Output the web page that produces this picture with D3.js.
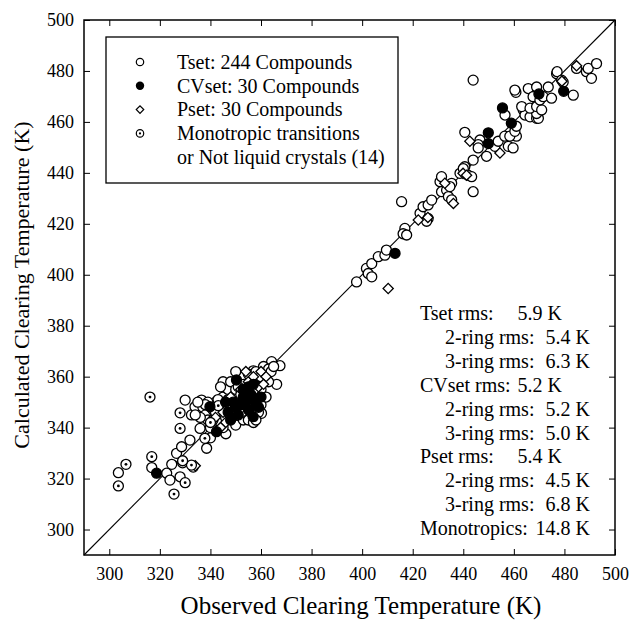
<!DOCTYPE html>
<html><head><meta charset="utf-8">
<script src="https://cdn.jsdelivr.net/npm/d3@7"></script>
<style>
body{margin:0;background:#fff;}
text{font-family:"Liberation Serif","Times New Roman",serif;fill:#000;}
</style></head>
<body><svg id="c" width="629" height="625"></svg>
<script>
// Axis settings
const xDomain = [290, 500];
const yDomain = [290, 500];
const majorTicks = [300, 320, 340, 360, 380, 400, 420, 440, 460, 480, 500];
const xTitle = "Observed Clearing Temperature (K)";
const yTitle = "Calculated Clearing Temperature (K)";

// Tset: open circles [observed, calculated]
const tset = [
[303.6,322.3],[316.8,324.3],[322.7,322.1],[324,319.4],[324.7,325.6],[326.6,329.9],[328,320.7],[328.6,332.5],[329,326.2],[330,350.8],
[331.9,335.1],[332.5,345],[333.2,324.5],[333.9,348.2],[335.9,339.7],[336.5,350.8],[338.5,331.9],[340.5,345],[345,358],[346.1,337.6],
[356.9,362.3],[360.9,362.6],[364.2,365.9],[367.5,364.3],[366.2,357],[360.2,345.6],
[337,348],[338,345],[339,343],[340,340],[341,347],[342,350],[343,345],[344,342],[345,352],[346,348],[347,355],[348,344],[348,358],
[349,352],[350,341],[350,355],[351,350],[352,346],[352,360],[353,343],[353,357],[354,349],[354,353],[355,361],[355,343],[356,346],
[356,358],[357,354],[357,348],[358,362],[358,345],[359,351],[359,359],[360,355],[360,349],[361,358],[361,364],[362,352],[362,361],
[363,363],[363,358],[364,362],[365,364],[344,356],[346,344],[349,347],[351,356],[353,351],[355,353],[347,351],[341,343],[343,351],
[345,340],[357,342],[359,346],[350,362],[352,353],[354,347],[356,352],[358,350],[360,360],[342,346],[339,350],[336,344],[334,345],
[338,349],[340,336],[335,350],
[397.8,397.2],[401.7,402.5],[402.4,400.5],[403.8,399.2],[403.8,404.4],[406.4,407.1],[409,407.7],[409.6,409.7],[415.6,428.7],[416.9,418.2],
[416.2,416.1],[417.6,415.6],[422.9,424.1],[424.1,426.7],[426.1,427.4],[427.5,429.3],[426.1,422.1],[425.5,421],[430.8,436.5],[431.4,438.5],
[431.4,432.6],[433.4,433.2],[434.1,430.7],[435.4,435.9],[435.4,429.4],[434.7,434.6],[438.7,439.8],[440.6,442.4],[441.9,439.1],[443.9,432.6],
[443.3,438.5],[443.9,445],[440,441.7],
[443.9,476.4],[440.6,455.9],[446.6,452.9],[445.9,451.1],[445.9,449.8],[449.2,446.5],[452.5,450.4],[453.8,452.4],[456.4,454.4],[457.8,450.4],
[459.7,449.8],[461,454.4],[458.4,454.4],[460.4,456.3],[461,458.3],[456.5,462.7],[463.7,464.7],[464.4,462.7],[466.4,462],[469,461.4],
[469.7,461.4],[469,463.3],[463.1,466],[466.4,465.4],[469,466],[471,464.7],[460.8,471.6],[460.4,472.5],[465.7,473.1],[467.6,469.9],
[470.3,468.6],[471.6,469.9],[469,473.7],[473.6,473.7],[474.9,469.3],[476.9,478.9],[477.1,479.7],[478.9,476.4],[479.5,475.6],[483.5,470.5],
[484.8,481],[488.7,479.7],[490.7,477.1],[489.4,481],[492.7,482.9]
];

// CVset: filled circles
const cvset = [
[318.7,322.1],[339.8,348.2],[342.4,338.4],[350.3,358.7],[356.9,344.3],[413,408.4],[449.9,455.7],[449.9,451.5],[455.5,465.5],[459,459.5],
[469.9,471],[479.7,472],[347,346],[349,350],[350,348],[352,349],[353,352],[354,350],[355,356],[356,353],
[357,351],[358,349],[346,350],[351,345],[348,343],[355,347],[353,355],[357,357],[360,352],[359,348]
];

// Pset: open diamonds
const pset = [
[410.3,394.6],[484.8,482],[442.6,452.4],[454.5,447.8],[439.9,439.8],[436.1,428],[422.2,421.5],[432.7,435.9],[441.3,439.1],[426,422.5],
[345,346],[348,352],[352,355],[355,358],[357,360],[360,362],[362,360],[350,346],[356,350],[353,346],
[358,355],[346,342],[342,344],[344,340],[347,349],[359,356],[354,362],[361,357],[334,325],[479,476]
];

// Monotropic transitions or not liquid crystals: circle with dot
const mono = [
[316.1,352],[316.8,328.6],[306.6,325.6],[303.6,317.1],[328,345.8],[328,339.7],[330,318.4],[325.6,313.9],[337.8,335.8],[343.1,348.6],
[332.5,325.3],[329,327],[340,342],[358,343]
];

const legendLabels = ["Tset: 244 Compounds","CVset: 30 Compounds","Pset: 30 Compounds","Monotropic transitions","or Not liquid crystals (14)"];
const statLabels = ["Tset rms:","2-ring rms:","3-ring rms:","CVset rms:","2-ring rms:","3-ring rms:","Pset rms:","2-ring rms:","3-ring rms:","Monotropics:"];
const statValues = ["5.9 K","5.4 K","6.3 K","5.2 K","5.2 K","5.0 K","5.4 K","4.5 K","6.8 K","14.8 K"];
const statIndent = [0,1,1,0,1,1,0,1,1,0];
const statWide = [0,1,1,0,1,1,0,1,1,1];

const svg = d3.select("#c");
const L = 84, T = 20, W = 531, H = 535;
const x = d3.scaleLinear().domain(xDomain).range([L, L + W]);
const y = d3.scaleLinear().domain(yDomain).range([T + H, T]);
const minorTicks = d3.range(290, 501, 4);

const g = svg.append("g");
function ax(axisFn, scale, tr, show) {
  const a = g.append("g").attr("transform", tr);
  a.call(axisFn(scale).tickValues(minorTicks).tickSize(-3).tickFormat(""));
  a.call(axisFn(scale).tickValues(majorTicks).tickSize(-6).tickFormat(show ? d3.format("d") : ""));
  a.selectAll(".domain").remove();
  a.selectAll("line").attr("stroke", "#000").attr("stroke-width", 1);
  a.selectAll("text").style("font-size", "18px").style("font-family", "Liberation Serif");
  return a;
}
const xa = ax(d3.axisBottom, x, `translate(0,${T + H})`, true);
xa.selectAll("text").attr("y", 12);
ax(d3.axisTop, x, `translate(0,${T})`, false);
const ya = ax(d3.axisLeft, y, `translate(${L},0)`, true);
ya.selectAll("text").attr("x", -10);
ax(d3.axisRight, y, `translate(${L + W},0)`, false);

g.append("rect").attr("x", L).attr("y", T).attr("width", W).attr("height", H)
  .attr("fill", "none").attr("stroke", "#000").attr("stroke-width", 1.5);

// diagonal y = x
g.append("line").attr("x1", x(290)).attr("y1", y(290)).attr("x2", x(500)).attr("y2", y(500))
  .attr("stroke", "#000").attr("stroke-width", 1.1);

const R = 5;
const pts = g.append("g");
pts.selectAll("circle.t").data(tset).join("circle").attr("class", "t")
  .attr("cx", d => x(d[0])).attr("cy", d => y(d[1])).attr("r", R)
  .attr("fill", "#fff").attr("stroke", "#000").attr("stroke-width", 1.3);
pts.selectAll("path.p").data(pset).join("path").attr("class", "p")
  .attr("transform", d => `translate(${x(d[0])},${y(d[1])}) rotate(45)`)
  .attr("d", d3.symbol().type(d3.symbolSquare).size(52)())
  .attr("fill", "#fff").attr("stroke", "#000").attr("stroke-width", 1.3);
pts.selectAll("circle.m").data(mono).join("circle").attr("class", "m")
  .attr("cx", d => x(d[0])).attr("cy", d => y(d[1])).attr("r", R)
  .attr("fill", "#fff").attr("stroke", "#000").attr("stroke-width", 1.3);
pts.selectAll("circle.md").data(mono).join("circle").attr("class", "md")
  .attr("cx", d => x(d[0])).attr("cy", d => y(d[1])).attr("r", 1.4).attr("fill", "#000");
pts.selectAll("circle.c").data(cvset).join("circle").attr("class", "c")
  .attr("cx", d => x(d[0])).attr("cy", d => y(d[1])).attr("r", R)
  .attr("fill", "#000").attr("stroke", "#000").attr("stroke-width", 1.3);

// Legend
const lg = svg.append("g");
lg.append("rect").attr("x", 106).attr("y", 37).attr("width", 292).attr("height", 146)
  .attr("fill", "#fff").attr("stroke", "#000").attr("stroke-width", 1.3);
const rowY = i => 62 + i * 23.8;
lg.append("circle").attr("cx", 140).attr("cy", rowY(0)).attr("r", 3.7).attr("fill", "#fff").attr("stroke", "#000").attr("stroke-width", 1.2);
lg.append("circle").attr("cx", 140).attr("cy", rowY(1)).attr("r", 4.2).attr("fill", "#000");
lg.append("path").attr("transform", `translate(140,${rowY(2)}) rotate(45)`).attr("d", d3.symbol().type(d3.symbolSquare).size(28)())
  .attr("fill", "#fff").attr("stroke", "#000").attr("stroke-width", 1.2);
lg.append("circle").attr("cx", 140).attr("cy", rowY(3)).attr("r", 3.7).attr("fill", "#fff").attr("stroke", "#000").attr("stroke-width", 1.2);
lg.append("circle").attr("cx", 140).attr("cy", rowY(3)).attr("r", 1.1).attr("fill", "#000");
lg.selectAll("text").data(legendLabels).join("text")
  .attr("x", 177).attr("y", (d, i) => rowY(i) + 6.8).style("font-size", "20px").text(d => d);

// Stats
const st = svg.append("g");
statLabels.forEach((s, i) => {
  const yy = 320 + i * 23.9;
  st.append("text").attr("x", statIndent[i] ? 445 : 420).attr("y", yy).style("font-size", "20px").text(s);
  st.append("text").attr("x", statWide[i] ? 590 : 562).attr("y", yy).attr("text-anchor", "end").style("font-size", "20px").text(statValues[i]);
});

// titles
svg.append("text").attr("x", 361).attr("y", 614).attr("text-anchor", "middle").style("font-size", "25px").text(xTitle);
svg.append("text").attr("transform", `translate(29,285) rotate(-90)`).attr("text-anchor", "middle").style("font-size", "22px").text(yTitle);
</script></body></html>
